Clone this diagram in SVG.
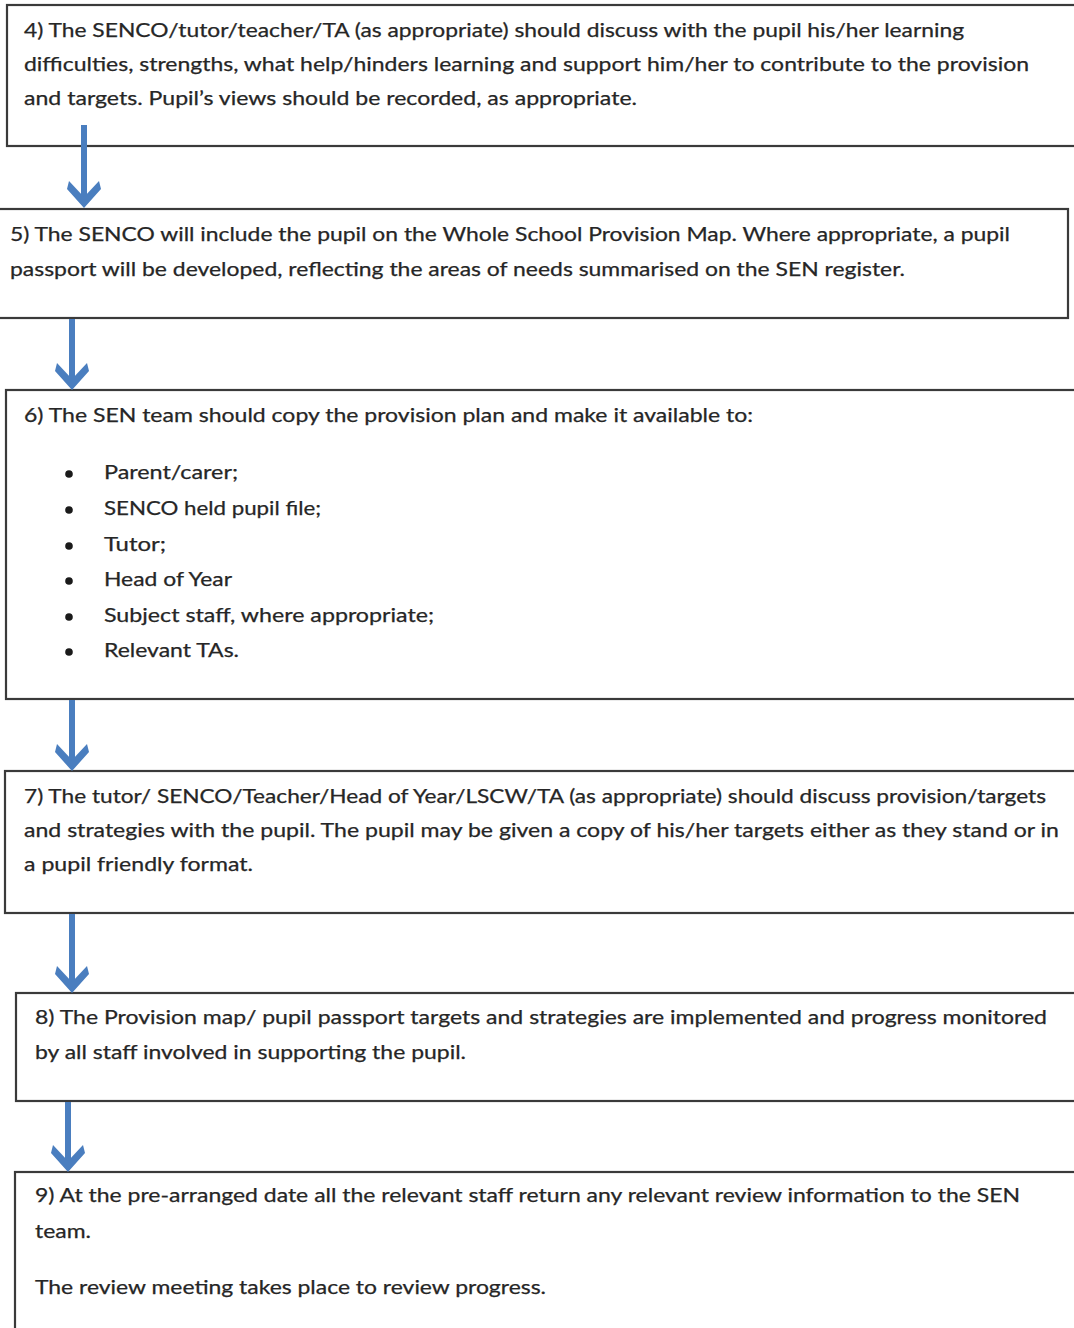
<svg xmlns="http://www.w3.org/2000/svg" width="1074" height="1328" viewBox="0 0 1074 1328">
<defs>
<style>
.box{fill:#ffffff;stroke:#3a3a3a;stroke-width:2.2}
.t{font-family:Lato,"Open Sans","Liberation Sans",sans-serif;font-size:19.5px;fill:#262626;stroke:#262626;stroke-width:0.25}
.sh{stroke:#4a7ebf;stroke-width:6;fill:none}
.hd{fill:#4a7ebf}
.bul{fill:#1a1a1a}
</style>
<path id="head" d="M-15,-26 L0,-10 L15,-26 L17,-18 L0,1 L-17,-18 Z"/>
</defs>
<rect width="1074" height="1328" fill="#ffffff"/>
<g id="node4">
<rect class="box" x="7" y="5" width="1080" height="141"/>
<text class="t" x="24" y="37" textLength="940" lengthAdjust="spacingAndGlyphs">4) The SENCO/tutor/teacher/TA (as appropriate) should discuss with the pupil his/her learning</text>
<text class="t" x="24" y="71" textLength="1005" lengthAdjust="spacingAndGlyphs">difficulties, strengths, what help/hinders learning and support him/her to contribute to the provision</text>
<text class="t" x="24" y="105" textLength="613" lengthAdjust="spacingAndGlyphs">and targets. Pupil’s views should be recorded, as appropriate.</text>
</g>
<g id="node5">
<rect class="box" x="-2" y="209" width="1070" height="109"/>
<text class="t" x="10" y="241" textLength="1000" lengthAdjust="spacingAndGlyphs">5) The SENCO will include the pupil on the Whole School Provision Map.  Where appropriate, a pupil</text>
<text class="t" x="10" y="276" textLength="895" lengthAdjust="spacingAndGlyphs">passport will be developed, reflecting the areas of needs summarised on the SEN register.</text>
</g>
<g id="node6">
<rect class="box" x="6" y="390" width="1080" height="309"/>
<text class="t" x="24" y="422" textLength="729" lengthAdjust="spacingAndGlyphs">6)  The SEN team should copy the provision plan and make it available to:</text>
<circle class="bul" cx="69" cy="474" r="3.8"/>
<circle class="bul" cx="69" cy="510" r="3.8"/>
<circle class="bul" cx="69" cy="546" r="3.8"/>
<circle class="bul" cx="69" cy="581" r="3.8"/>
<circle class="bul" cx="69" cy="617" r="3.8"/>
<circle class="bul" cx="69" cy="652" r="3.8"/>
<text class="t" x="104" y="479" textLength="134" lengthAdjust="spacingAndGlyphs">Parent/carer;</text>
<text class="t" x="104" y="515" textLength="217" lengthAdjust="spacingAndGlyphs">SENCO held pupil file;</text>
<text class="t" x="104" y="551" textLength="62" lengthAdjust="spacingAndGlyphs">Tutor;</text>
<text class="t" x="104" y="586" textLength="128" lengthAdjust="spacingAndGlyphs">Head of Year</text>
<text class="t" x="104" y="622" textLength="330" lengthAdjust="spacingAndGlyphs">Subject staff, where appropriate;</text>
<text class="t" x="104" y="657" textLength="135" lengthAdjust="spacingAndGlyphs">Relevant TAs.</text>
</g>
<g id="node7">
<rect class="box" x="5" y="771" width="1080" height="142"/>
<text class="t" x="24" y="803" textLength="1022" lengthAdjust="spacingAndGlyphs">7) The tutor/ SENCO/Teacher/Head of Year/LSCW/TA (as appropriate) should discuss provision/targets</text>
<text class="t" x="24" y="837" textLength="1035" lengthAdjust="spacingAndGlyphs">and strategies with the pupil.  The pupil may be given a copy of his/her targets either as they stand or in</text>
<text class="t" x="24" y="871" textLength="229" lengthAdjust="spacingAndGlyphs">a pupil friendly format.</text>
</g>
<g id="node8">
<rect class="box" x="16" y="993" width="1070" height="108"/>
<text class="t" x="35" y="1024" textLength="1012" lengthAdjust="spacingAndGlyphs">8) The Provision map/ pupil passport targets and strategies are implemented and progress monitored</text>
<text class="t" x="35" y="1059" textLength="431" lengthAdjust="spacingAndGlyphs">by all staff involved in supporting the pupil.</text>
</g>
<g id="node9">
<rect class="box" x="15" y="1172" width="1070" height="170"/>
<text class="t" x="35" y="1202" textLength="985" lengthAdjust="spacingAndGlyphs">9) At the pre-arranged date all the relevant staff return any relevant review information to the SEN</text>
<text class="t" x="35" y="1238" textLength="56" lengthAdjust="spacingAndGlyphs">team.</text>
<text class="t" x="35" y="1294" textLength="511" lengthAdjust="spacingAndGlyphs">The review meeting takes place to review progress.</text>
</g>
<g id="connectors">
<line class="sh" x1="84" y1="125" x2="84" y2="200"/>
<use href="#head" class="hd" x="84" y="207"/>
<line class="sh" x1="72" y1="319" x2="72" y2="382"/>
<use href="#head" class="hd" x="72" y="389"/>
<line class="sh" x1="72" y1="700" x2="72" y2="763"/>
<use href="#head" class="hd" x="72" y="770"/>
<line class="sh" x1="72" y1="914" x2="72" y2="985"/>
<use href="#head" class="hd" x="72" y="992"/>
<line class="sh" x1="68" y1="1102" x2="68" y2="1164"/>
<use href="#head" class="hd" x="68" y="1171"/>
</g>
</svg>
